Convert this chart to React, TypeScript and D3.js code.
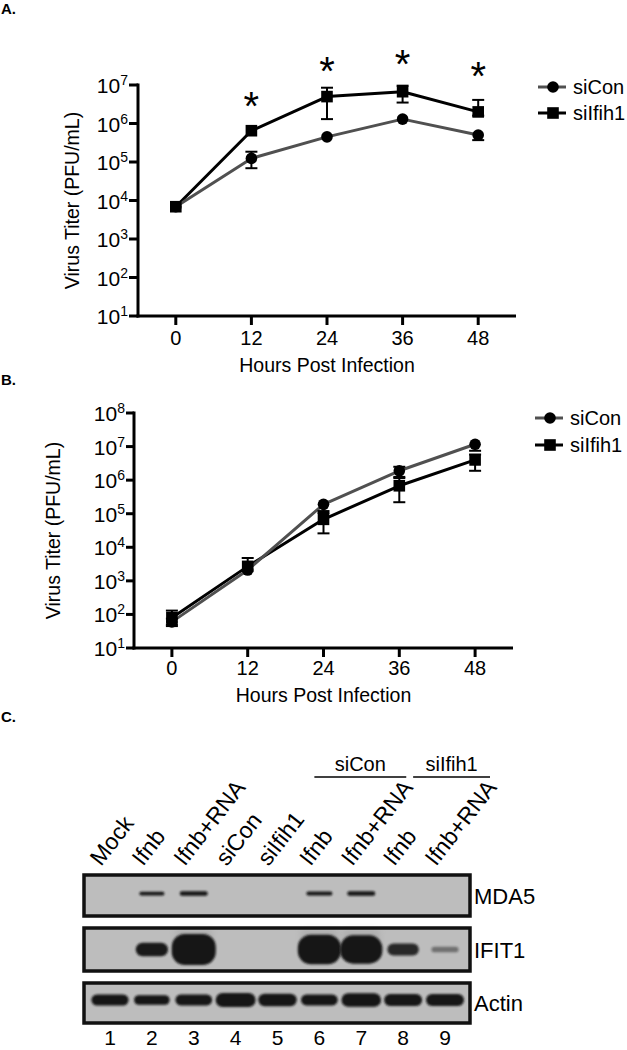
import React from 'react';
import * as d3 from 'd3';

const FONT = "'Liberation Sans', Arial, Helvetica, sans-serif";

// ---------- Panel A data ----------
const hours = [0, 12, 24, 36, 48];
const aSiConMean = [6.9e3, 1.24e5, 4.5e5, 1.3e6, 5.0e5];
const aSiConLow = [6.9e3, 6.9e4, 4.5e5, 1.3e6, 3.7e5];
const aSiConHigh = [6.9e3, 1.85e5, 4.5e5, 1.3e6, 5.0e5];
const aSiIfih1Mean = [6.9e3, 6.5e5, 5.0e6, 6.7e6, 2.0e6];
const aSiIfih1Low = [6.9e3, 6.5e5, 1.3e6, 3.5e6, 1.6e6];
const aSiIfih1High = [6.9e3, 6.5e5, 8.5e6, 9.6e6, 4.1e6];
const aSigHours = [12, 24, 36, 48];
const aSigLevels = [4.9e6, 4.0e7, 6.0e7, 2.9e7];
const aYExps = [1, 2, 3, 4, 5, 6, 7];

// ---------- Panel B data ----------
const bSiConMean = [60, 2100, 1.9e5, 1.9e6, 1.17e7];
const bSiConLow = [45, 1900, 1.05e5, 1.25e6, 7.5e6];
const bSiConHigh = [75, 2300, 1.9e5, 2.5e6, 1.17e7];
const bSiIfih1Mean = [80, 2700, 6.8e4, 6.8e5, 4.0e6];
const bSiIfih1Low = [50, 2500, 2.6e4, 2.2e5, 1.9e6];
const bSiIfih1High = [130, 4800, 1.2e5, 1.15e6, 5.8e6];
const bYExps = [1, 2, 3, 4, 5, 6, 7, 8];

const seriesNames = ['siCon', 'siIfih1'];
const xTitle = 'Hours Post Infection';
const yTitle = 'Virus Titer (PFU/mL)';

// ---------- Panel C data ----------
const laneNumbers = [1, 2, 3, 4, 5, 6, 7, 8, 9];
const laneLabels = ['Mock', 'Ifnb', 'Ifnb+RNA', 'siCon', 'siIfih1', 'Ifnb', 'Ifnb+RNA', 'Ifnb', 'Ifnb+RNA'];
const blotNames = ['MDA5', 'IFIT1', 'Actin'];
const mda5Signal = [0, 0.5, 0.8, 0, 0, 0.6, 0.8, 0, 0];
const ifit1Signal = [0, 0.35, 1.0, 0, 0, 0.95, 0.9, 0.3, 0.06];
const actinSignal = [0.65, 0.45, 0.6, 1.0, 0.8, 0.6, 0.95, 0.75, 0.75];
const groupNames = ['siCon', 'siIfih1'];
const groupFirstLane = [6, 8];
const groupLastLane = [7, 9];

type Series = { name: string; mean: number[]; low: number[]; high: number[]; color: string; marker: 'circle' | 'square' };

type ChartProps = {
  xr: [number, number];
  yr: [number, number];
  exps: number[];
  series: Series[];
  tickLabelRight: number;
  yTitleX: number;
  xTickBase: number;
  xTitleBase: number;
  legendX: number;
  legendY: number[];
  sigHours?: number[];
  sigLevels?: number[];
};

function TiterChart(p: ChartProps) {
  const x = d3.scaleLinear().domain([-6, 54]).range(p.xr);
  const y = d3.scaleLog().domain([Math.pow(10, p.exps[0]), Math.pow(10, p.exps[p.exps.length - 1])]).range(p.yr);
  const line = d3.line<number>().x((_, i) => x(hours[i])).y((v) => y(v));
  const yMid = (p.yr[0] + p.yr[1]) / 2;
  const xMid = (p.xr[0] + p.xr[1]) / 2;
  const cap = 6;
  const order = [...p.series].reverse();
  return (
    <g fontFamily={FONT} fill="#000">
      <line x1={p.xr[0]} x2={p.xr[0]} y1={p.yr[1] - 1.5} y2={p.yr[0] + 1.5} stroke="#000" strokeWidth={3} />
      <line x1={p.xr[0] - 1.5} x2={p.xr[1]} y1={p.yr[0]} y2={p.yr[0]} stroke="#000" strokeWidth={3} />
      {p.exps.map((e) => (
        <g key={'yt' + e}>
          <line x1={p.tickLabelRight + 1} x2={p.xr[0]} y1={y(Math.pow(10, e))} y2={y(Math.pow(10, e))} stroke="#000" strokeWidth={3} />
          <text x={p.tickLabelRight} y={y(Math.pow(10, e)) + 8} textAnchor="end" fontSize={21}>
            10<tspan dy={-8} fontSize={14}>{e}</tspan>
          </text>
        </g>
      ))}
      {hours.map((h) => (
        <g key={'xt' + h}>
          <line x1={x(h)} x2={x(h)} y1={p.yr[0]} y2={p.yr[0] + 9} stroke="#000" strokeWidth={3} />
          <text x={x(h)} y={p.xTickBase} textAnchor="middle" fontSize={20}>{h}</text>
        </g>
      ))}
      <text x={xMid} y={p.xTitleBase} textAnchor="middle" fontSize={19.5}>{xTitle}</text>
      <text transform={`translate(${p.yTitleX},${yMid}) rotate(-90)`} textAnchor="middle" fontSize={19.5}>{yTitle}</text>
      {order.map((s) => (
        <path key={'l' + s.name} d={line(s.mean) || ''} fill="none" stroke={s.color} strokeWidth={3} strokeLinejoin="round" />
      ))}
      {order.map((s) =>
        hours.map((h, i) => {
          const cx = x(h);
          const yl = y(s.low[i]);
          const yh = y(s.high[i]);
          if (Math.abs(yl - yh) < 1) return null;
          return (
            <g key={'e' + s.name + h} stroke="#000" strokeWidth={2}>
              <line x1={cx} x2={cx} y1={yl} y2={yh} />
              {Math.abs(yl - y(s.mean[i])) > 2 && <line x1={cx - cap} x2={cx + cap} y1={yl} y2={yl} />}
              {Math.abs(yh - y(s.mean[i])) > 2 && <line x1={cx - cap} x2={cx + cap} y1={yh} y2={yh} />}
            </g>
          );
        })
      )}
      {order.map((s) =>
        s.mean.map((v, i) =>
          s.marker === 'circle' ? (
            <circle key={'m' + s.name + i} cx={x(hours[i])} cy={y(v)} r={5.8} fill="#000" />
          ) : (
            <rect key={'m' + s.name + i} x={x(hours[i]) - 5.8} y={y(v) - 5.8} width={11.6} height={11.6} fill="#000" />
          )
        )
      )}
      {p.sigHours &&
        p.sigHours.map((h, i) => (
          <text key={'s' + h} x={x(h)} y={y(p.sigLevels![i]) + 23} textAnchor="middle" fontSize={40}>*</text>
        ))}
      {p.series.map((s, i) => (
        <g key={'lg' + s.name}>
          <line x1={p.legendX - 15} x2={p.legendX + 13} y1={p.legendY[i]} y2={p.legendY[i]} stroke={s.color} strokeWidth={3} />
          {s.marker === 'circle' ? (
            <circle cx={p.legendX} cy={p.legendY[i]} r={5.8} fill="#000" />
          ) : (
            <rect x={p.legendX - 5.8} y={p.legendY[i] - 5.8} width={11.6} height={11.6} fill="#000" />
          )}
          <text x={p.legendX + 20} y={p.legendY[i] + 7} fontSize={20}>{s.name}</text>
        </g>
      ))}
    </g>
  );
}

function Blot() {
  const lx = d3.scaleLinear().domain([1, 9]).range([110, 445]);
  const boxX0 = 84;
  const boxX1 = 470;
  const boxes = [
    { top: 875, bottom: 916 },
    { top: 928, bottom: 971 },
    { top: 983, bottom: 1023 },
  ];
  const signals = [mda5Signal, ifit1Signal, actinSignal];
  const bandW = [
    d3.scaleLinear().domain([0, 1]).range([20, 30]),
    d3.scaleLinear().domain([0, 1]).range([26, 44]),
    d3.scaleLinear().domain([0, 1]).range([32, 40]),
  ];
  const bandH = [
    d3.scaleLinear().domain([0, 1]).range([2.5, 5]),
    d3.scaleLinear().domain([0, 1]).range([4, 31]),
    d3.scaleLinear().domain([0, 1]).range([6, 14]),
  ];
  const bandYOffset = [-2, 0, -3];
  const lineStartOffset = [-5, 10];
  const lineEndOffset = [45, 45];
  return (
    <g fontFamily={FONT}>
      <defs>
        <filter id="bl1" x="-50%" y="-100%" width="200%" height="300%">
          <feGaussianBlur stdDeviation="1.2" />
        </filter>
        <filter id="bl2" x="-50%" y="-100%" width="200%" height="300%">
          <feGaussianBlur stdDeviation="3" />
        </filter>
      </defs>
      {groupNames.map((g, i) => {
        const xs = lx(groupFirstLane[i]) + lineStartOffset[i];
        const xe = lx(groupLastLane[i]) + lineEndOffset[i];
        return (
          <g key={'g' + g}>
            <line x1={xs} x2={xe} y1={777} y2={777} stroke="#000" strokeWidth={1.3} />
            <text x={(xs + xe) / 2} y={771} textAnchor="middle" fontSize={20}>{g}</text>
          </g>
        );
      })}
      {laneLabels.map((t, i) => (
        <text key={'ll' + i} transform={`translate(${lx(laneNumbers[i]) - 9},867) rotate(-52)`} fontSize={23}>{t}</text>
      ))}
      {boxes.map((b, bi) => {
        const cy = (b.top + b.bottom) / 2 + bandYOffset[bi];
        return (
          <g key={'b' + bi}>
            <rect x={boxX0} y={b.top} width={boxX1 - boxX0} height={b.bottom - b.top} fill="#bdbdbd" />
            {bi === 1 &&
              signals[bi].map((s, li) =>
                s > 0.85 ? (
                  <rect key={'sm' + li} x={lx(laneNumbers[li]) - 18} y={b.top + 2} width={36} height={cy - b.top} fill="#8a8a8a" opacity={0.3} filter="url(#bl2)" />
                ) : null
              )}
            {signals[bi].map((s, li) => {
              if (s <= 0) return null;
              const w = bandW[bi](s);
              const h = bandH[bi](s);
              const r = Math.min(h / 2, w / 2, 13);
              return (
                <rect
                  key={'band' + li}
                  x={lx(laneNumbers[li]) - w / 2}
                  y={cy - h / 2}
                  width={w}
                  height={h}
                  rx={r}
                  ry={Math.min(h / 2, 13)}
                  fill="#161616"
                  opacity={Math.min(1, 0.35 + s * 1.8)}
                  filter="url(#bl1)"
                />
              );
            })}
            <rect x={boxX0} y={b.top} width={boxX1 - boxX0} height={b.bottom - b.top} fill="none" stroke="#111" strokeWidth={3.5} />
            <text x={474} y={(b.top + b.bottom) / 2 + 8} fontSize={22}>{blotNames[bi]}</text>
          </g>
        );
      })}
      {laneNumbers.map((n) => (
        <text key={'n' + n} x={lx(n)} y={1045} textAnchor="middle" fontSize={21}>{n}</text>
      ))}
    </g>
  );
}

export default function App() {
  const aSeries: Series[] = [
    { name: seriesNames[0], mean: aSiConMean, low: aSiConLow, high: aSiConHigh, color: '#505050', marker: 'circle' },
    { name: seriesNames[1], mean: aSiIfih1Mean, low: aSiIfih1Low, high: aSiIfih1High, color: '#000', marker: 'square' },
  ];
  const bSeries: Series[] = [
    { name: seriesNames[0], mean: bSiConMean, low: bSiConLow, high: bSiConHigh, color: '#505050', marker: 'circle' },
    { name: seriesNames[1], mean: bSiIfih1Mean, low: bSiIfih1Low, high: bSiIfih1High, color: '#000', marker: 'square' },
  ];
  return (
    <svg width={627} height={1050} style={{ position: 'absolute', left: 0, top: 0, background: '#fff' }}>
      <rect width={627} height={1050} fill="#fff" />
      <g fontFamily="'Liberation Sans Narrow', 'Arial Narrow', 'Liberation Sans', sans-serif" fontWeight="bold" fontSize={15}>
        <text x={1} y={14}>A.</text>
        <text x={1} y={385}>B.</text>
        <text x={1} y={722}>C.</text>
      </g>
      <TiterChart
        xr={[138, 516]}
        yr={[316, 85]}
        exps={aYExps}
        series={aSeries}
        tickLabelRight={128}
        yTitleX={79}
        xTickBase={345}
        xTitleBase={372}
        legendX={553}
        legendY={[87, 113]}
        sigHours={aSigHours}
        sigLevels={aSigLevels}
      />
      <TiterChart
        xr={[134, 513]}
        yr={[648, 413]}
        exps={bYExps}
        series={bSeries}
        tickLabelRight={125}
        yTitleX={60}
        xTickBase={675}
        xTitleBase={702}
        legendX={550}
        legendY={[418, 445]}
      />
      <Blot />
    </svg>
  );
}
